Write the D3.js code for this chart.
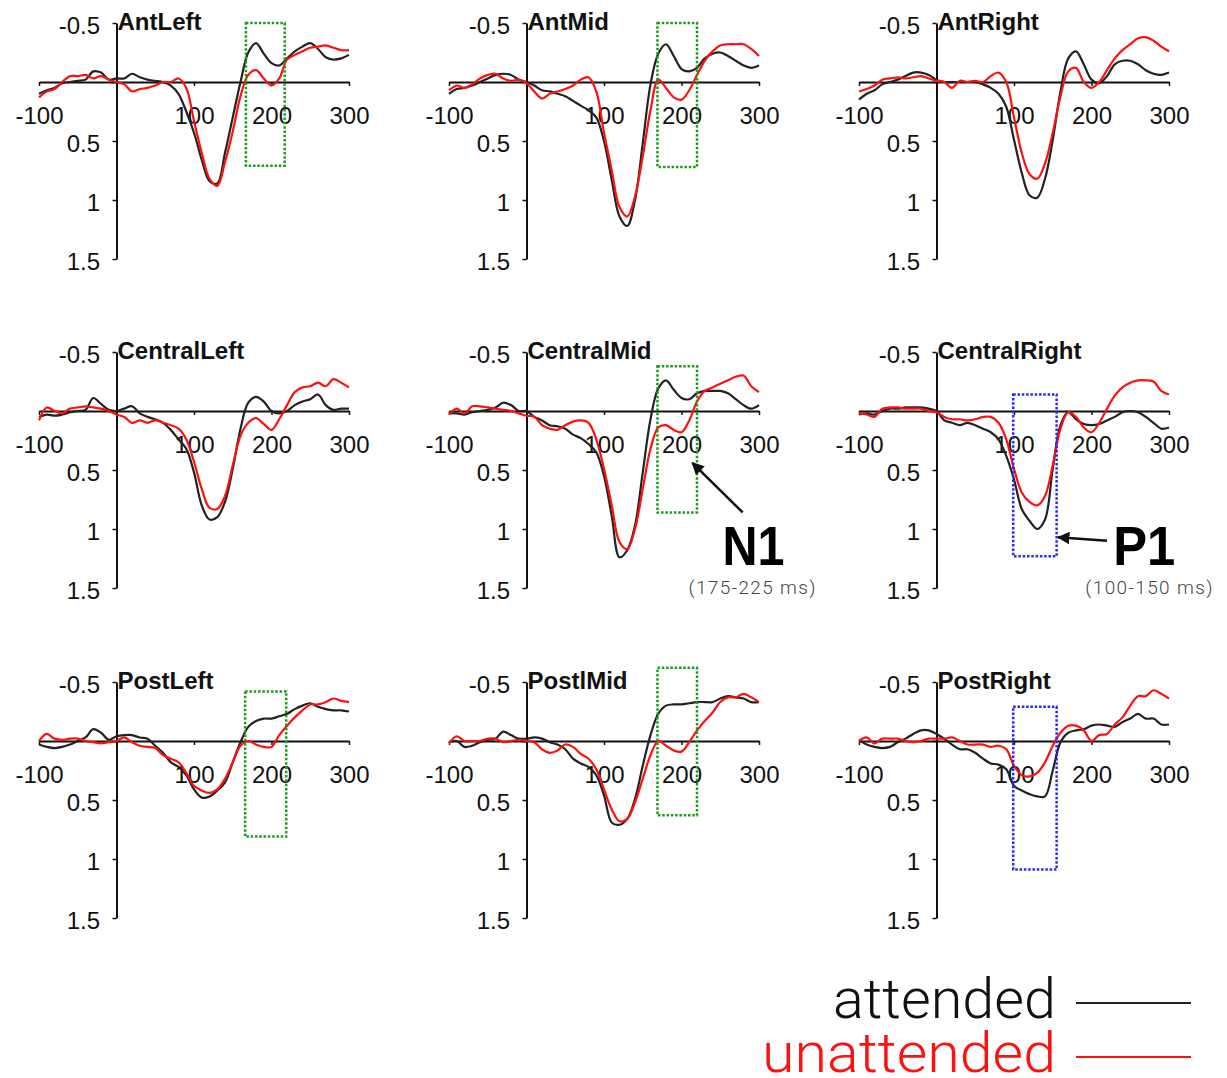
<!DOCTYPE html>
<html><head><meta charset="utf-8">
<script src="https://cdn.jsdelivr.net/npm/d3@7"></script>
<style>body{margin:0;background:#fff}</style>
</head><body>
<svg id="chart" width="1227" height="1078"></svg>
<script>
// ---- data ----
const times = [-100,-90,-80,-70,-60,-50,-40,-30,-20,-10,0,10,20,30,40,50,60,70,80,90,100,110,120,130,140,150,160,170,180,190,200,210,220,230,240,250,260,270,280,290,300];
const xTickValues = [-100,0,100,200,300];
const yTickValues = [-0.5,0,0.5,1,1.5];
const panelNames = ["AntLeft","AntMid","AntRight","CentralLeft","CentralMid","CentralRight","PostLeft","PostlMid","PostRight"];
const seriesNames = ["attended","unattended"];

const attAntLeft = [0.1,0.07,0.05,0.01,0.0,-0.01,-0.02,-0.09,-0.08,-0.02,-0.03, -0.03,-0.07,-0.04,-0.02,-0.01,0.0,0.03,0.1,0.25,0.43, 0.66,0.84,0.86,0.6,0.3,0.0,-0.25,-0.33,-0.24,-0.16, -0.14,-0.2,-0.26,-0.3,-0.33,-0.28,-0.21,-0.19,-0.2,-0.23];
const unAntLeft  = [0.13,0.08,0.06,0.0,-0.05,-0.05,-0.06,-0.03,-0.05,-0.02,0.0, 0.02,0.08,0.06,0.05,0.03,0.0,0.0,-0.03,0.05,0.33, 0.6,0.82,0.88,0.68,0.42,0.12,-0.06,-0.1,-0.03,0.03, -0.03,-0.19,-0.23,-0.26,-0.29,-0.3,-0.31,-0.29,-0.27,-0.27];
const attAntMid  = [0.1,0.06,0.05,0.03,0.0,-0.03,-0.06,-0.07,-0.06,-0.02,0.0, 0.03,0.07,0.08,0.1,0.12,0.16,0.2,0.24,0.3,0.5, 0.83,1.14,1.22,1.0,0.52,0.02,-0.24,-0.32,-0.22,-0.11, -0.09,-0.12,-0.2,-0.24,-0.25,-0.22,-0.18,-0.14,-0.12,-0.14];
const unAntMid   = [0.07,0.03,0.05,0.02,-0.03,-0.06,-0.07,-0.03,-0.01,-0.02,0.01, 0.08,0.14,0.1,0.08,0.06,0.03,-0.02,-0.04,0.08,0.43, 0.75,1.06,1.14,0.97,0.63,0.24,-0.02,0.05,0.13,0.15, 0.07,-0.06,-0.18,-0.26,-0.31,-0.32,-0.32,-0.32,-0.28,-0.22];
const attAntRight= [0.15,0.1,0.07,0.02,0.0,-0.02,-0.05,-0.08,-0.08,-0.06,-0.02, 0.0,0.0,0.0,0.0,0.0,0.02,0.05,0.1,0.21,0.49, 0.77,0.96,0.98,0.82,0.49,0.08,-0.2,-0.26,-0.15,-0.02, 0.01,-0.05,-0.15,-0.18,-0.18,-0.15,-0.1,-0.07,-0.06,-0.08];
const unAntRight = [0.08,0.06,0.03,-0.02,-0.03,-0.04,-0.03,-0.04,-0.05,-0.03,-0.01, 0.0,0.05,-0.01,0.0,-0.01,0.0,-0.05,-0.08,0.0,0.3, 0.6,0.78,0.82,0.69,0.43,0.12,-0.09,-0.12,0.0,0.05, 0.0,-0.1,-0.2,-0.27,-0.32,-0.37,-0.38,-0.35,-0.3,-0.26];
const attCentralLeft = [0.05,0.03,0.04,0.03,0.01,0.0,-0.01,-0.11,-0.06,-0.01,0.0, -0.02,-0.04,0.02,0.05,0.07,0.1,0.16,0.24,0.32,0.52, 0.8,0.92,0.9,0.77,0.49,0.15,-0.07,-0.12,-0.08,0.0, 0.02,0.0,-0.05,-0.08,-0.1,-0.14,-0.05,-0.01,-0.02,-0.02];
const unCentralLeft  = [0.08,-0.03,0.0,0.02,-0.02,-0.03,-0.04,-0.03,-0.02,0.0,0.03, 0.05,0.1,0.08,0.1,0.08,0.1,0.12,0.15,0.24,0.43, 0.66,0.82,0.83,0.72,0.46,0.21,0.1,0.06,0.11,0.16, 0.07,-0.05,-0.16,-0.2,-0.21,-0.24,-0.21,-0.27,-0.24,-0.2];
const attCentralMid  = [0.02,0.02,0.03,0.01,0.0,-0.01,-0.03,-0.07,-0.05,0.0,0.0, 0.05,0.08,0.12,0.13,0.15,0.2,0.23,0.28,0.35,0.55, 0.89,1.24,1.18,0.97,0.52,0.07,-0.19,-0.26,-0.18,-0.11, -0.1,-0.15,-0.17,-0.17,-0.17,-0.15,-0.1,-0.05,-0.02,-0.05];
const unCentralMid   = [0.03,-0.02,0.02,-0.04,-0.04,-0.03,-0.02,-0.01,0.0,0.02,0.04, 0.05,0.12,0.15,0.16,0.12,0.09,0.08,0.1,0.24,0.49, 0.8,1.11,1.17,1.0,0.66,0.32,0.14,0.12,0.16,0.18, 0.08,-0.08,-0.17,-0.2,-0.23,-0.26,-0.29,-0.3,-0.21,-0.16];
const attCentralRight= [0.03,0.02,0.03,0.0,-0.02,-0.02,-0.03,-0.03,-0.03,-0.02,0.0, 0.08,0.1,0.12,0.1,0.12,0.15,0.18,0.24,0.38,0.58, 0.83,0.93,1.0,0.92,0.49,0.12,0.01,0.07,0.11,0.12, 0.11,0.08,0.05,0.01,0.0,0.01,0.05,0.1,0.15,0.14];
const unCentralRight = [0.02,0.03,0.05,-0.02,-0.03,-0.03,-0.02,-0.02,-0.02,0.0,0.01, 0.05,0.07,0.07,0.08,0.07,0.05,0.05,0.1,0.24,0.49, 0.69,0.77,0.8,0.72,0.46,0.15,0.01,0.05,0.14,0.18, 0.1,-0.02,-0.13,-0.2,-0.24,-0.26,-0.26,-0.25,-0.17,-0.14];
const attPostLeft = [0.03,0.05,0.06,0.05,0.03,0.0,-0.03,-0.1,-0.07,-0.01,-0.04, -0.05,-0.05,-0.03,-0.02,0.04,0.1,0.18,0.22,0.29,0.41, 0.48,0.47,0.42,0.35,0.18,0.01,-0.12,-0.17,-0.19,-0.19, -0.21,-0.23,-0.27,-0.3,-0.32,-0.29,-0.27,-0.26,-0.26,-0.25];
const unPostLeft  = [0.0,-0.06,-0.02,-0.01,-0.02,-0.02,0.0,0.01,0.02,0.01,0.0, -0.03,0.01,0.04,0.05,0.06,0.12,0.15,0.18,0.27,0.38, 0.42,0.44,0.41,0.32,0.18,0.04,0.0,0.03,0.05,0.05, -0.05,-0.13,-0.2,-0.26,-0.31,-0.31,-0.33,-0.36,-0.34,-0.33];
const attPostlMid = [0.01,0.0,0.05,0.04,0.01,-0.01,-0.02,-0.08,-0.05,-0.02,-0.02, -0.03,-0.02,0.01,0.03,0.07,0.15,0.19,0.22,0.29,0.46, 0.69,0.71,0.66,0.49,0.21,-0.05,-0.23,-0.3,-0.31,-0.31, -0.32,-0.33,-0.33,-0.33,-0.36,-0.38,-0.37,-0.36,-0.33,-0.33];
const unPostlMid  = [0.02,-0.04,0.0,0.0,0.0,-0.02,-0.02,0.01,0.0,-0.01,0.0, 0.01,0.07,0.1,0.08,0.03,0.05,0.11,0.15,0.24,0.41, 0.58,0.68,0.66,0.52,0.32,0.12,0.0,0.04,0.08,0.09, 0.01,-0.09,-0.17,-0.24,-0.33,-0.37,-0.37,-0.4,-0.37,-0.33];
const attPostRight= [-0.01,0.03,0.05,0.06,0.05,0.01,-0.02,-0.06,-0.09,-0.09,-0.06, -0.02,0.03,0.07,0.07,0.1,0.15,0.19,0.2,0.24,0.38, 0.42,0.45,0.47,0.47,0.25,0.01,-0.07,-0.09,-0.1,-0.13, -0.14,-0.13,-0.12,-0.16,-0.19,-0.23,-0.19,-0.19,-0.14,-0.14];
const unPostRight = [0.0,-0.03,0.02,-0.02,-0.02,-0.02,0.0,0.01,0.0,-0.02,-0.02, -0.02,-0.03,0.0,0.03,0.03,0.03,0.05,0.04,0.07,0.21, 0.29,0.3,0.27,0.18,0.04,-0.07,-0.13,-0.13,-0.09,0.0, -0.05,-0.06,-0.14,-0.2,-0.3,-0.38,-0.38,-0.43,-0.4,-0.36];

// analysis windows drawn as dotted boxes
const boxPanels = [0,1,4,5,6,7,8];
const boxT0 = [167,169,169,99,166,169,99];
const boxT1 = [217,220,220,155,219,220,155];
const boxV0 = [-0.5,-0.5,-0.38,-0.14,-0.42,-0.62,-0.29];
const boxV1 = [0.71,0.72,0.86,1.23,0.81,0.63,1.09];
const boxKind = ["N1","N1","N1","P1","N1","N1","P1"];

const attSeries = [attAntLeft,attAntMid,attAntRight,attCentralLeft,attCentralMid,attCentralRight,attPostLeft,attPostlMid,attPostRight];
const unSeries  = [unAntLeft,unAntMid,unAntRight,unCentralLeft,unCentralMid,unCentralRight,unPostLeft,unPostlMid,unPostRight];

// ---- drawing ----
const FONT = "'Liberation Sans', Arial, Helvetica, sans-serif";
const LIGHT = "Roboto, 'Open Sans', sans-serif";
const svg = d3.select("#chart");
const colAxisX = [116.5, 526.5, 936.5];
const rowTop = [23, 352, 682];
const colors = {attended:"#222222", unattended:"#ff1010"};
const legendText = {attended:"#111111", unattended:"#ff1010"};
const boxColor = {N1:"#1f9a1f", P1:"#2a2af0"};

svg.append("defs").append("marker")
  .attr("id","arrow").attr("viewBox","0 0 10 10").attr("refX",9).attr("refY",5)
  .attr("markerWidth",5).attr("markerHeight",5).attr("orient","auto-start-reverse")
  .append("path").attr("d","M0,0 L10,5 L0,10 z").attr("fill","#111");

const scales = [];
panelNames.forEach((name,i) => {
  const col = i % 3, row = Math.floor(i/3);
  const x0 = colAxisX[col];
  const x = d3.scaleLinear().domain([-100,300]).range([x0-77.5, x0+232.5]);
  const y = d3.scaleLinear().domain([-0.5,1.5]).range([rowTop[row], rowTop[row]+236]);
  scales.push({x,y});
  const g = svg.append("g");

  const xa = g.append("g").attr("transform",`translate(0,${y(0)})`)
    .call(d3.axisBottom(x).tickValues(xTickValues).tickFormat(d => d===0 ? "" : String(d))
      .tickSize(4).tickSizeOuter(0).tickPadding(21));
  const ya = g.append("g").attr("transform",`translate(${x(0)},0)`)
    .call(d3.axisLeft(y).tickValues(yTickValues).tickFormat(d => d===0 ? "" : String(d))
      .tickSize(4).tickSizeOuter(0).tickPadding(12.5));
  [xa,ya].forEach(a => {
    a.select(".domain").attr("stroke","#111").attr("stroke-width",2);
    a.selectAll(".tick line").attr("stroke","#111").attr("stroke-width",1.5);
    a.selectAll("text").attr("font-family",FONT).attr("font-size",24).attr("fill","#111");
  });
  ya.selectAll("text").attr("dy","0.45em");

  const line = d3.line().x((d,k) => x(times[k])).y(d => y(d)).curve(d3.curveCatmullRom.alpha(0.5));
  g.append("path").datum(attSeries[i]).attr("d",line).attr("fill","none")
    .attr("stroke",colors.attended).attr("stroke-width",2.2);
  g.append("path").datum(unSeries[i]).attr("d",line).attr("fill","none")
    .attr("stroke",colors.unattended).attr("stroke-width",2.2);

  g.append("text").text(name).attr("x",x(0)+1).attr("y",y(-0.5)+7)
    .attr("font-family",FONT).attr("font-weight","bold").attr("font-size",24).attr("fill","#111");
});

boxPanels.forEach((p,j) => {
  const {x,y} = scales[p];
  svg.append("rect")
    .attr("x",x(boxT0[j])).attr("y",y(boxV0[j]))
    .attr("width",x(boxT1[j])-x(boxT0[j])).attr("height",y(boxV1[j])-y(boxV0[j]))
    .attr("fill","none").attr("stroke",boxColor[boxKind[j]])
    .attr("stroke-width",2.5).attr("stroke-dasharray","2.5 1.8");
});

// annotations
function annotate(p, label, range, tText, tArrow0, vArrow0, tArrow1, vArrow1, tRange){
  const {x,y} = scales[p];
  svg.append("line").attr("x1",x(tArrow0)).attr("y1",y(vArrow0)).attr("x2",x(tArrow1)).attr("y2",y(vArrow1))
    .attr("stroke","#111").attr("stroke-width",2.5).attr("marker-end","url(#arrow)");
  svg.append("text").text(label).attr("x",x(tText)).attr("y",y(1.305))
    .attr("font-family",FONT).attr("font-weight","bold").attr("font-size",55)
    .attr("textLength",62).attr("lengthAdjust","spacingAndGlyphs").attr("fill","#000");
  svg.append("text").text(range).attr("x",x(tRange)).attr("y",y(1.55)).attr("text-anchor","middle")
    .attr("font-family",LIGHT).attr("font-weight",300).attr("font-size",19)
    .attr("textLength",127).attr("lengthAdjust","spacing").attr("fill","#444");
}
annotate(4, "N1", "(175-225 ms)", 253, 279, 0.86, 214, 0.44, 291);
annotate(5, "P1", "(100-150 ms)", 228, 220, 1.1, 157, 1.07, 274);

// legend
const legY = [1018, 1072];
const legWidth = [223, 294];
seriesNames.forEach((s,k) => {
  svg.append("text").text(s).attr("x",1056).attr("y",legY[k]).attr("text-anchor","end")
    .attr("font-family",LIGHT).attr("font-weight",300).attr("font-size",56)
    .attr("textLength",legWidth[k]).attr("lengthAdjust","spacingAndGlyphs")
    .attr("fill",legendText[s]);
  svg.append("line").attr("x1",1076).attr("x2",1191).attr("y1",legY[k]-15).attr("y2",legY[k]-15)
    .attr("stroke",colors[s]).attr("stroke-width",2);
});
</script>
</body></html>
